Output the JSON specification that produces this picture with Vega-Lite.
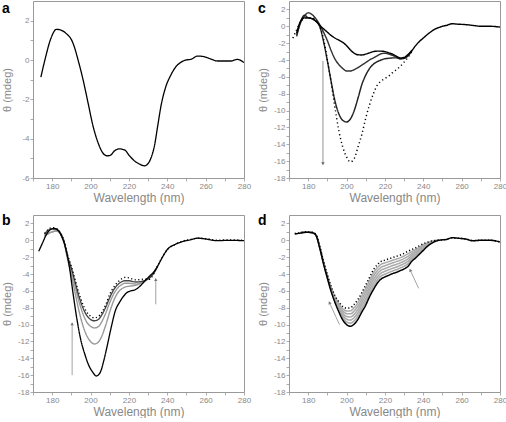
{
"$schema": "https://vega.github.io/schema/vega-lite/v6.json",
"padding": {"left": 0, "top": 0, "right": 0, "bottom": 0},
"background": "white",
"datasets": {
"a": [
{"s":"a","x":174.1,"y":-0.87},{"s":"a","x":176.2,"y":0},{"s":"a","x":179.3,"y":1.09},{"s":"a","x":182.2,"y":1.56},{"s":"a","x":184.8,"y":1.51},{"s":"a","x":187.4,"y":1.34},{"s":"a","x":190.4,"y":0.96},{"s":"a","x":191.8,"y":0.59},{"s":"a","x":193.5,"y":0},{"s":"a","x":196.1,"y":-1.0},{"s":"a","x":198.7,"y":-2.18},{"s":"a","x":201.3,"y":-3.36},{"s":"a","x":203.9,"y":-4.2},{"s":"a","x":206.5,"y":-4.74},{"s":"a","x":208.7,"y":-4.87},{"s":"a","x":210.4,"y":-4.84},{"s":"a","x":212.5,"y":-4.62},{"s":"a","x":215.1,"y":-4.52},{"s":"a","x":217.7,"y":-4.57},{"s":"a","x":220.3,"y":-4.87},{"s":"a","x":222.9,"y":-5.13},{"s":"a","x":225.5,"y":-5.29},{"s":"a","x":228.1,"y":-5.38},{"s":"a","x":229.8,"y":-5.29},{"s":"a","x":231.6,"y":-4.96},{"s":"a","x":233.3,"y":-4.37},{"s":"a","x":235.0,"y":-3.36},{"s":"a","x":236.7,"y":-2.35},{"s":"a","x":239.3,"y":-1.34},{"s":"a","x":241.9,"y":-0.76},{"s":"a","x":244.5,"y":-0.34},{"s":"a","x":247.1,"y":-0.12},{"s":"a","x":249.7,"y":0},{"s":"a","x":252.3,"y":0.03},{"s":"a","x":255.8,"y":0.2},{"s":"a","x":259.2,"y":0.17},{"s":"a","x":262.7,"y":0.05},{"s":"a","x":266.2,"y":-0.05},{"s":"a","x":269.6,"y":-0.05},{"s":"a","x":273.1,"y":-0.05},{"s":"a","x":276.5,"y":0.03},{"s":"a","x":280,"y":-0.13}
],
"b": [
{"s":"b4","x":176,"y":0.5},{"s":"b4","x":178,"y":0.8},{"s":"b4","x":180,"y":1.0},{"s":"b4","x":182,"y":1.1},{"s":"b4","x":184,"y":0.9},{"s":"b4","x":186,"y":-0.1},{"s":"b4","x":188,"y":-2.2},{"s":"b4","x":190,"y":-4.1},{"s":"b4","x":192,"y":-6.3},{"s":"b4","x":194,"y":-8.4},{"s":"b4","x":196,"y":-10.1},{"s":"b4","x":198,"y":-11.3},{"s":"b4","x":200,"y":-12.0},{"s":"b4","x":202,"y":-12.3},{"s":"b4","x":204,"y":-12.1},{"s":"b4","x":206,"y":-11.3},{"s":"b4","x":208,"y":-10.0},{"s":"b4","x":210,"y":-8.5},{"s":"b4","x":212,"y":-7.2},{"s":"b4","x":214,"y":-6.3},{"s":"b4","x":216,"y":-5.8},{"s":"b4","x":218,"y":-5.55},{"s":"b4","x":220,"y":-5.45},{"s":"b4","x":222,"y":-5.4},{"s":"b4","x":224,"y":-5.3},{"s":"b4","x":226,"y":-5.1},{"s":"b4","x":228,"y":-4.9},{"s":"b4","x":230,"y":-4.5},{"s":"b4","x":232,"y":-4.1},{"s":"b4","x":234,"y":-3.45},{"s":"b4","x":235,"y":-3.05},
{"s":"b3","x":176,"y":0.5},{"s":"b3","x":178,"y":0.8},{"s":"b3","x":180,"y":1.0},{"s":"b3","x":182,"y":1.1},{"s":"b3","x":184,"y":0.9},{"s":"b3","x":186,"y":0.0},{"s":"b3","x":188,"y":-2.0},{"s":"b3","x":190,"y":-3.6},{"s":"b3","x":192,"y":-5.5},{"s":"b3","x":194,"y":-7.3},{"s":"b3","x":196,"y":-8.7},{"s":"b3","x":198,"y":-9.7},{"s":"b3","x":200,"y":-10.2},{"s":"b3","x":202,"y":-10.4},{"s":"b3","x":204,"y":-10.25},{"s":"b3","x":206,"y":-9.6},{"s":"b3","x":208,"y":-8.6},{"s":"b3","x":210,"y":-7.4},{"s":"b3","x":212,"y":-6.4},{"s":"b3","x":214,"y":-5.7},{"s":"b3","x":216,"y":-5.3},{"s":"b3","x":218,"y":-5.1},{"s":"b3","x":220,"y":-5.1},{"s":"b3","x":222,"y":-5.15},{"s":"b3","x":224,"y":-5.2},{"s":"b3","x":226,"y":-5.05},{"s":"b3","x":228,"y":-4.85},{"s":"b3","x":230,"y":-4.55},{"s":"b3","x":232,"y":-4.15},{"s":"b3","x":234,"y":-3.5},{"s":"b3","x":235,"y":-3.05},
{"s":"b2","x":176,"y":0.7},{"s":"b2","x":178,"y":1.2},{"s":"b2","x":180,"y":1.35},{"s":"b2","x":182,"y":1.3},{"s":"b2","x":184,"y":0.95},{"s":"b2","x":186,"y":0.0},{"s":"b2","x":188,"y":-1.9},{"s":"b2","x":190,"y":-3.3},{"s":"b2","x":192,"y":-5.0},{"s":"b2","x":194,"y":-6.7},{"s":"b2","x":196,"y":-8.0},{"s":"b2","x":198,"y":-8.9},{"s":"b2","x":200,"y":-9.4},{"s":"b2","x":202,"y":-9.55},{"s":"b2","x":204,"y":-9.4},{"s":"b2","x":206,"y":-8.8},{"s":"b2","x":208,"y":-7.9},{"s":"b2","x":210,"y":-6.8},{"s":"b2","x":212,"y":-5.9},{"s":"b2","x":214,"y":-5.3},{"s":"b2","x":216,"y":-4.95},{"s":"b2","x":218,"y":-4.8},{"s":"b2","x":220,"y":-4.8},{"s":"b2","x":222,"y":-4.9},{"s":"b2","x":224,"y":-4.95},{"s":"b2","x":226,"y":-4.9},{"s":"b2","x":228,"y":-4.8},{"s":"b2","x":230,"y":-4.6},{"s":"b2","x":232,"y":-4.2},{"s":"b2","x":234,"y":-3.5},{"s":"b2","x":235,"y":-3.05},
{"s":"bd","x":176,"y":0.8},{"s":"bd","x":178,"y":1.3},{"s":"bd","x":180,"y":1.5},{"s":"bd","x":182,"y":1.4},{"s":"bd","x":184,"y":1.0},{"s":"bd","x":186,"y":0.0},{"s":"bd","x":188,"y":-1.7},{"s":"bd","x":190,"y":-3.1},{"s":"bd","x":192,"y":-4.7},{"s":"bd","x":194,"y":-6.3},{"s":"bd","x":196,"y":-7.6},{"s":"bd","x":198,"y":-8.5},{"s":"bd","x":200,"y":-9.0},{"s":"bd","x":202,"y":-9.2},{"s":"bd","x":204,"y":-9.05},{"s":"bd","x":206,"y":-8.5},{"s":"bd","x":208,"y":-7.6},{"s":"bd","x":210,"y":-6.4},{"s":"bd","x":212,"y":-5.6},{"s":"bd","x":214,"y":-5.0},{"s":"bd","x":216,"y":-4.6},{"s":"bd","x":218,"y":-4.4},{"s":"bd","x":220,"y":-4.45},{"s":"bd","x":222,"y":-4.6},{"s":"bd","x":224,"y":-4.7},{"s":"bd","x":226,"y":-4.65},{"s":"bd","x":228,"y":-4.6},{"s":"bd","x":230,"y":-4.65},{"s":"bd","x":232,"y":-4.35},{"s":"bd","x":234,"y":-3.45},{"s":"bd","x":236,"y":-2.6},{"s":"bd","x":240,"y":-1.1},{"s":"bd","x":244,"y":-0.5},{"s":"bd","x":248,"y":-0.1},{"s":"bd","x":252,"y":0.1},{"s":"bd","x":256,"y":0.25},{"s":"bd","x":260,"y":0.2},{"s":"bd","x":266,"y":0.0},{"s":"bd","x":272,"y":0.05},{"s":"bd","x":280,"y":0.0},
{"s":"bk","x":173,"y":-1.3},{"s":"bk","x":175,"y":-0.3},{"s":"bk","x":177,"y":0.7},{"s":"bk","x":179,"y":1.25},{"s":"bk","x":181,"y":1.4},{"s":"bk","x":183,"y":1.2},{"s":"bk","x":185,"y":0.4},{"s":"bk","x":187,"y":-0.9},{"s":"bk","x":189,"y":-3.2},{"s":"bk","x":191,"y":-6.5},{"s":"bk","x":193,"y":-9.5},{"s":"bk","x":195,"y":-11.9},{"s":"bk","x":197,"y":-13.5},{"s":"bk","x":199,"y":-14.8},{"s":"bk","x":201,"y":-15.6},{"s":"bk","x":203,"y":-16.1},{"s":"bk","x":205,"y":-15.7},{"s":"bk","x":207,"y":-14.2},{"s":"bk","x":209,"y":-12.2},{"s":"bk","x":211,"y":-10.1},{"s":"bk","x":213,"y":-8.3},{"s":"bk","x":215,"y":-7.4},{"s":"bk","x":217,"y":-6.7},{"s":"bk","x":219,"y":-6.2},{"s":"bk","x":221,"y":-6.0},{"s":"bk","x":223,"y":-5.9},{"s":"bk","x":225,"y":-5.6},{"s":"bk","x":227,"y":-5.15},{"s":"bk","x":229,"y":-4.65},{"s":"bk","x":231,"y":-4.2},{"s":"bk","x":233,"y":-3.75},{"s":"bk","x":235,"y":-3.05},{"s":"bk","x":237,"y":-2.2},{"s":"bk","x":240,"y":-1.1},{"s":"bk","x":244,"y":-0.5},{"s":"bk","x":248,"y":-0.15},{"s":"bk","x":252,"y":0.05},{"s":"bk","x":256,"y":0.25},{"s":"bk","x":260,"y":0.15},{"s":"bk","x":266,"y":-0.05},{"s":"bk","x":272,"y":0.0},{"s":"bk","x":280,"y":-0.05}
],
"c": [
{"s":"c2","x":174,"y":-1.0},{"s":"c2","x":176,"y":0.4},{"s":"c2","x":178,"y":1.2},{"s":"c2","x":180,"y":1.6},{"s":"c2","x":182,"y":1.4},{"s":"c2","x":184,"y":0.9},{"s":"c2","x":186,"y":0.2},{"s":"c2","x":188,"y":-0.7},{"s":"c2","x":190,"y":-1.7},{"s":"c2","x":192,"y":-2.9},{"s":"c2","x":194,"y":-3.9},{"s":"c2","x":196,"y":-4.55},{"s":"c2","x":198,"y":-5.0},{"s":"c2","x":200,"y":-5.3},{"s":"c2","x":202,"y":-5.3},{"s":"c2","x":204,"y":-5.15},{"s":"c2","x":206,"y":-4.9},{"s":"c2","x":208,"y":-4.6},{"s":"c2","x":210,"y":-4.3},{"s":"c2","x":212,"y":-4.0},{"s":"c2","x":214,"y":-3.75},{"s":"c2","x":216,"y":-3.5},{"s":"c2","x":218,"y":-3.25},{"s":"c2","x":220,"y":-3.2},{"s":"c2","x":222,"y":-3.3},{"s":"c2","x":224,"y":-3.45},{"s":"c2","x":226,"y":-3.65},{"s":"c2","x":228,"y":-3.85},{"s":"c2","x":230,"y":-3.8},{"s":"c2","x":232,"y":-3.5},{"s":"c2","x":234,"y":-2.9},
{"s":"c3","x":174,"y":-1.2},{"s":"c3","x":176,"y":0.5},{"s":"c3","x":178,"y":1.3},{"s":"c3","x":180,"y":1.0},{"s":"c3","x":182,"y":0.9},{"s":"c3","x":184,"y":0.6},{"s":"c3","x":186,"y":0.0},{"s":"c3","x":188,"y":-1.8},{"s":"c3","x":190,"y":-4.1},{"s":"c3","x":192,"y":-6.6},{"s":"c3","x":194,"y":-8.9},{"s":"c3","x":196,"y":-10.4},{"s":"c3","x":198,"y":-11.15},{"s":"c3","x":200,"y":-11.35},{"s":"c3","x":202,"y":-11.0},{"s":"c3","x":204,"y":-10.0},{"s":"c3","x":206,"y":-8.5},{"s":"c3","x":208,"y":-6.9},{"s":"c3","x":210,"y":-5.8},{"s":"c3","x":212,"y":-5.0},{"s":"c3","x":214,"y":-4.5},{"s":"c3","x":216,"y":-4.2},{"s":"c3","x":218,"y":-4.0},{"s":"c3","x":220,"y":-3.85},{"s":"c3","x":222,"y":-3.8},{"s":"c3","x":224,"y":-3.75},{"s":"c3","x":226,"y":-3.75},{"s":"c3","x":228,"y":-3.85},{"s":"c3","x":230,"y":-3.8},{"s":"c3","x":232,"y":-3.5},{"s":"c3","x":234,"y":-2.9},
{"s":"cd","x":172,"y":-1.4},{"s":"cd","x":174,"y":-0.4},{"s":"cd","x":176,"y":0.5},{"s":"cd","x":178,"y":0.9},{"s":"cd","x":180,"y":1.0},{"s":"cd","x":182,"y":1.0},{"s":"cd","x":184,"y":0.7},{"s":"cd","x":186,"y":0.0},{"s":"cd","x":188,"y":-1.5},{"s":"cd","x":190,"y":-4.0},{"s":"cd","x":192,"y":-6.7},{"s":"cd","x":194,"y":-9.7},{"s":"cd","x":196,"y":-12.4},{"s":"cd","x":198,"y":-14.3},{"s":"cd","x":200,"y":-15.5},{"s":"cd","x":202,"y":-16.1},{"s":"cd","x":204,"y":-15.7},{"s":"cd","x":206,"y":-14.3},{"s":"cd","x":208,"y":-12.8},{"s":"cd","x":210,"y":-10.9},{"s":"cd","x":212,"y":-9.3},{"s":"cd","x":214,"y":-8.0},{"s":"cd","x":216,"y":-7.0},{"s":"cd","x":218,"y":-6.5},{"s":"cd","x":220,"y":-6.2},{"s":"cd","x":222,"y":-5.9},{"s":"cd","x":224,"y":-5.5},{"s":"cd","x":226,"y":-5.15},{"s":"cd","x":228,"y":-4.75},{"s":"cd","x":230,"y":-4.25},{"s":"cd","x":232,"y":-3.7},{"s":"cd","x":234,"y":-3.0},
{"s":"ck","x":174,"y":-0.8},{"s":"ck","x":176,"y":0.6},{"s":"ck","x":178,"y":1.0},{"s":"ck","x":180,"y":1.0},{"s":"ck","x":182,"y":0.9},{"s":"ck","x":184,"y":0.6},{"s":"ck","x":186,"y":0.1},{"s":"ck","x":188,"y":-0.3},{"s":"ck","x":190,"y":-0.7},{"s":"ck","x":192,"y":-1.1},{"s":"ck","x":194,"y":-1.4},{"s":"ck","x":196,"y":-1.65},{"s":"ck","x":198,"y":-1.9},{"s":"ck","x":200,"y":-2.3},{"s":"ck","x":202,"y":-2.8},{"s":"ck","x":204,"y":-3.2},{"s":"ck","x":206,"y":-3.38},{"s":"ck","x":208,"y":-3.4},{"s":"ck","x":210,"y":-3.3},{"s":"ck","x":212,"y":-3.15},{"s":"ck","x":214,"y":-3.0},{"s":"ck","x":216,"y":-2.95},{"s":"ck","x":218,"y":-2.95},{"s":"ck","x":220,"y":-3.0},{"s":"ck","x":222,"y":-3.15},{"s":"ck","x":224,"y":-3.3},{"s":"ck","x":226,"y":-3.55},{"s":"ck","x":228,"y":-3.75},{"s":"ck","x":230,"y":-3.7},{"s":"ck","x":232,"y":-3.35},{"s":"ck","x":234,"y":-2.9},{"s":"ck","x":236,"y":-2.3},{"s":"ck","x":238,"y":-1.8},{"s":"ck","x":240,"y":-1.4},{"s":"ck","x":242,"y":-1.0},{"s":"ck","x":244,"y":-0.65},{"s":"ck","x":246,"y":-0.35},{"s":"ck","x":248,"y":-0.15},{"s":"ck","x":250,"y":0.0},{"s":"ck","x":252,"y":0.1},{"s":"ck","x":255,"y":0.3},{"s":"ck","x":258,"y":0.25},{"s":"ck","x":262,"y":0.2},{"s":"ck","x":266,"y":0.1},{"s":"ck","x":270,"y":0.0},{"s":"ck","x":275,"y":0.0},{"s":"ck","x":280,"y":-0.1}
],
"d": [
{"s":"g1","x":176,"y":0.9},{"s":"g1","x":179,"y":1.0},{"s":"g1","x":182,"y":0.94},{"s":"g1","x":184,"y":0.68},{"s":"g1","x":186,"y":-0.73},{"s":"g1","x":188,"y":-2.55},{"s":"g1","x":190,"y":-4.17},{"s":"g1","x":192,"y":-5.6},{"s":"g1","x":194,"y":-6.73},{"s":"g1","x":196,"y":-7.5},{"s":"g1","x":198,"y":-8.12},{"s":"g1","x":200,"y":-8.38},{"s":"g1","x":202,"y":-8.37},{"s":"g1","x":204,"y":-7.99},{"s":"g1","x":206,"y":-7.39},{"s":"g1","x":208,"y":-6.58},{"s":"g1","x":210,"y":-5.7},{"s":"g1","x":212,"y":-4.78},{"s":"g1","x":214,"y":-3.89},{"s":"g1","x":216,"y":-3.27},{"s":"g1","x":218,"y":-2.85},{"s":"g1","x":220,"y":-2.68},{"s":"g1","x":222,"y":-2.53},{"s":"g1","x":224,"y":-2.37},{"s":"g1","x":226,"y":-2.22},{"s":"g1","x":228,"y":-2.06},{"s":"g1","x":230,"y":-1.86},{"s":"g1","x":232,"y":-1.6},{"s":"g1","x":234,"y":-1.33},{"s":"g1","x":236,"y":-1.1},{"s":"g1","x":238,"y":-0.82},{"s":"g1","x":240,"y":-0.53},{"s":"g1","x":242,"y":-0.33},{"s":"g1","x":244,"y":-0.15},{"s":"g1","x":246,"y":-0.05},{"s":"g1","x":248,"y":0},
{"s":"g2","x":176,"y":0.9},{"s":"g2","x":179,"y":1.0},{"s":"g2","x":182,"y":0.93},{"s":"g2","x":184,"y":0.67},{"s":"g2","x":186,"y":-0.77},{"s":"g2","x":188,"y":-2.6},{"s":"g2","x":190,"y":-4.23},{"s":"g2","x":192,"y":-5.7},{"s":"g2","x":194,"y":-6.87},{"s":"g2","x":196,"y":-7.7},{"s":"g2","x":198,"y":-8.38},{"s":"g2","x":200,"y":-8.7},{"s":"g2","x":202,"y":-8.73},{"s":"g2","x":204,"y":-8.38},{"s":"g2","x":206,"y":-7.78},{"s":"g2","x":208,"y":-6.97},{"s":"g2","x":210,"y":-6.1},{"s":"g2","x":212,"y":-5.17},{"s":"g2","x":214,"y":-4.28},{"s":"g2","x":216,"y":-3.63},{"s":"g2","x":218,"y":-3.2},{"s":"g2","x":220,"y":-3.02},{"s":"g2","x":222,"y":-2.85},{"s":"g2","x":224,"y":-2.68},{"s":"g2","x":226,"y":-2.53},{"s":"g2","x":228,"y":-2.37},{"s":"g2","x":230,"y":-2.17},{"s":"g2","x":232,"y":-1.9},{"s":"g2","x":234,"y":-1.57},{"s":"g2","x":236,"y":-1.3},{"s":"g2","x":238,"y":-0.98},{"s":"g2","x":240,"y":-0.67},{"s":"g2","x":242,"y":-0.42},{"s":"g2","x":244,"y":-0.2},{"s":"g2","x":246,"y":-0.07},{"s":"g2","x":248,"y":0},
{"s":"g3","x":176,"y":0.9},{"s":"g3","x":179,"y":1.0},{"s":"g3","x":182,"y":0.92},{"s":"g3","x":184,"y":0.65},{"s":"g3","x":186,"y":-0.8},{"s":"g3","x":188,"y":-2.65},{"s":"g3","x":190,"y":-4.3},{"s":"g3","x":192,"y":-5.8},{"s":"g3","x":194,"y":-7.0},{"s":"g3","x":196,"y":-7.9},{"s":"g3","x":198,"y":-8.65},{"s":"g3","x":200,"y":-9.03},{"s":"g3","x":202,"y":-9.1},{"s":"g3","x":204,"y":-8.78},{"s":"g3","x":206,"y":-8.18},{"s":"g3","x":208,"y":-7.35},{"s":"g3","x":210,"y":-6.5},{"s":"g3","x":212,"y":-5.55},{"s":"g3","x":214,"y":-4.68},{"s":"g3","x":216,"y":-4.0},{"s":"g3","x":218,"y":-3.55},{"s":"g3","x":220,"y":-3.35},{"s":"g3","x":222,"y":-3.18},{"s":"g3","x":224,"y":-3.0},{"s":"g3","x":226,"y":-2.85},{"s":"g3","x":228,"y":-2.68},{"s":"g3","x":230,"y":-2.48},{"s":"g3","x":232,"y":-2.2},{"s":"g3","x":234,"y":-1.8},{"s":"g3","x":236,"y":-1.5},{"s":"g3","x":238,"y":-1.15},{"s":"g3","x":240,"y":-0.8},{"s":"g3","x":242,"y":-0.5},{"s":"g3","x":244,"y":-0.25},{"s":"g3","x":246,"y":-0.09},{"s":"g3","x":248,"y":0},
{"s":"g4","x":176,"y":0.9},{"s":"g4","x":179,"y":1.0},{"s":"g4","x":182,"y":0.91},{"s":"g4","x":184,"y":0.63},{"s":"g4","x":186,"y":-0.83},{"s":"g4","x":188,"y":-2.7},{"s":"g4","x":190,"y":-4.37},{"s":"g4","x":192,"y":-5.9},{"s":"g4","x":194,"y":-7.13},{"s":"g4","x":196,"y":-8.1},{"s":"g4","x":198,"y":-8.92},{"s":"g4","x":200,"y":-9.35},{"s":"g4","x":202,"y":-9.47},{"s":"g4","x":204,"y":-9.17},{"s":"g4","x":206,"y":-8.57},{"s":"g4","x":208,"y":-7.73},{"s":"g4","x":210,"y":-6.9},{"s":"g4","x":212,"y":-5.93},{"s":"g4","x":214,"y":-5.07},{"s":"g4","x":216,"y":-4.37},{"s":"g4","x":218,"y":-3.9},{"s":"g4","x":220,"y":-3.68},{"s":"g4","x":222,"y":-3.5},{"s":"g4","x":224,"y":-3.32},{"s":"g4","x":226,"y":-3.17},{"s":"g4","x":228,"y":-2.98},{"s":"g4","x":230,"y":-2.78},{"s":"g4","x":232,"y":-2.5},{"s":"g4","x":234,"y":-2.03},{"s":"g4","x":236,"y":-1.7},{"s":"g4","x":238,"y":-1.32},{"s":"g4","x":240,"y":-0.93},{"s":"g4","x":242,"y":-0.58},{"s":"g4","x":244,"y":-0.3},{"s":"g4","x":246,"y":-0.11},{"s":"g4","x":248,"y":0},
{"s":"g5","x":176,"y":0.88},{"s":"g5","x":179,"y":0.98},{"s":"g5","x":182,"y":0.9},{"s":"g5","x":184,"y":0.62},{"s":"g5","x":186,"y":-0.87},{"s":"g5","x":188,"y":-2.75},{"s":"g5","x":190,"y":-4.43},{"s":"g5","x":192,"y":-6.0},{"s":"g5","x":194,"y":-7.27},{"s":"g5","x":196,"y":-8.3},{"s":"g5","x":198,"y":-9.18},{"s":"g5","x":200,"y":-9.68},{"s":"g5","x":202,"y":-9.83},{"s":"g5","x":204,"y":-9.56},{"s":"g5","x":206,"y":-8.96},{"s":"g5","x":208,"y":-8.12},{"s":"g5","x":210,"y":-7.3},{"s":"g5","x":212,"y":-6.32},{"s":"g5","x":214,"y":-5.46},{"s":"g5","x":216,"y":-4.73},{"s":"g5","x":218,"y":-4.25},{"s":"g5","x":220,"y":-4.02},{"s":"g5","x":222,"y":-3.83},{"s":"g5","x":224,"y":-3.63},{"s":"g5","x":226,"y":-3.48},{"s":"g5","x":228,"y":-3.29},{"s":"g5","x":230,"y":-3.09},{"s":"g5","x":232,"y":-2.8},{"s":"g5","x":234,"y":-2.27},{"s":"g5","x":236,"y":-1.9},{"s":"g5","x":238,"y":-1.48},{"s":"g5","x":240,"y":-1.07},{"s":"g5","x":242,"y":-0.67},{"s":"g5","x":244,"y":-0.35},{"s":"g5","x":246,"y":-0.13},{"s":"g5","x":248,"y":0},
{"s":"dd","x":173,"y":0.8},{"s":"dd","x":176,"y":0.9},{"s":"dd","x":179,"y":1.0},{"s":"dd","x":182,"y":0.95},{"s":"dd","x":184,"y":0.7},{"s":"dd","x":186,"y":-0.7},{"s":"dd","x":188,"y":-2.5},{"s":"dd","x":190,"y":-4.1},{"s":"dd","x":192,"y":-5.5},{"s":"dd","x":194,"y":-6.6},{"s":"dd","x":196,"y":-7.3},{"s":"dd","x":198,"y":-7.85},{"s":"dd","x":200,"y":-8.05},{"s":"dd","x":202,"y":-8.0},{"s":"dd","x":204,"y":-7.6},{"s":"dd","x":206,"y":-7.0},{"s":"dd","x":208,"y":-6.2},{"s":"dd","x":210,"y":-5.3},{"s":"dd","x":212,"y":-4.4},{"s":"dd","x":214,"y":-3.5},{"s":"dd","x":216,"y":-2.9},{"s":"dd","x":218,"y":-2.5},{"s":"dd","x":220,"y":-2.35},{"s":"dd","x":222,"y":-2.2},{"s":"dd","x":224,"y":-2.05},{"s":"dd","x":226,"y":-1.9},{"s":"dd","x":228,"y":-1.75},{"s":"dd","x":230,"y":-1.55},{"s":"dd","x":232,"y":-1.3},{"s":"dd","x":234,"y":-1.1},{"s":"dd","x":236,"y":-0.9},{"s":"dd","x":238,"y":-0.65},{"s":"dd","x":240,"y":-0.4},{"s":"dd","x":242,"y":-0.25},{"s":"dd","x":244,"y":-0.1},{"s":"dd","x":246,"y":-0.03},{"s":"dd","x":248,"y":0.0},{"s":"dd","x":252,"y":0.1},{"s":"dd","x":255,"y":0.3},{"s":"dd","x":258,"y":0.25},{"s":"dd","x":262,"y":0.15},{"s":"dd","x":266,"y":-0.05},{"s":"dd","x":270,"y":0.0},{"s":"dd","x":275,"y":0.0},{"s":"dd","x":280,"y":-0.2},
{"s":"dk","x":173,"y":0.75},{"s":"dk","x":176,"y":0.85},{"s":"dk","x":179,"y":0.95},{"s":"dk","x":182,"y":0.9},{"s":"dk","x":184,"y":0.6},{"s":"dk","x":186,"y":-0.9},{"s":"dk","x":188,"y":-2.8},{"s":"dk","x":190,"y":-4.5},{"s":"dk","x":192,"y":-6.1},{"s":"dk","x":194,"y":-7.4},{"s":"dk","x":196,"y":-8.5},{"s":"dk","x":198,"y":-9.45},{"s":"dk","x":200,"y":-10.0},{"s":"dk","x":202,"y":-10.2},{"s":"dk","x":204,"y":-9.95},{"s":"dk","x":206,"y":-9.35},{"s":"dk","x":208,"y":-8.5},{"s":"dk","x":210,"y":-7.7},{"s":"dk","x":212,"y":-6.7},{"s":"dk","x":214,"y":-5.85},{"s":"dk","x":216,"y":-5.1},{"s":"dk","x":218,"y":-4.6},{"s":"dk","x":220,"y":-4.35},{"s":"dk","x":222,"y":-4.15},{"s":"dk","x":224,"y":-3.95},{"s":"dk","x":226,"y":-3.8},{"s":"dk","x":228,"y":-3.6},{"s":"dk","x":230,"y":-3.4},{"s":"dk","x":232,"y":-3.1},{"s":"dk","x":234,"y":-2.5},{"s":"dk","x":236,"y":-2.1},{"s":"dk","x":238,"y":-1.65},{"s":"dk","x":240,"y":-1.2},{"s":"dk","x":242,"y":-0.75},{"s":"dk","x":244,"y":-0.4},{"s":"dk","x":246,"y":-0.15},{"s":"dk","x":248,"y":0.0},{"s":"dk","x":252,"y":0.1},{"s":"dk","x":255,"y":0.3},{"s":"dk","x":258,"y":0.25},{"s":"dk","x":262,"y":0.15},{"s":"dk","x":266,"y":-0.05},{"s":"dk","x":270,"y":0.0},{"s":"dk","x":275,"y":0.0},{"s":"dk","x":280,"y":-0.2}
],
"arr": [
{"p":"b","x":190.4,"y":-9.9,"x2":190.4,"y2":-16.0},
{"p":"b","x":234,"y":-4.65,"x2":234,"y2":-7.6},
{"p":"c","x":187.7,"y":-16.3,"x2":187.7,"y2":-4.1},
{"p":"d","x":191.1,"y":-7.4,"x2":196.3,"y2":-10.0},
{"p":"d","x":233.2,"y":-3.55,"x2":237.6,"y2":-5.7}
]
},
"spacing": 9,
"vconcat": [
{"hconcat": [
{"width": 211, "height": 177, "title": {"text": "a", "offset": -15},
 "data": {"name": "a"},
 "encoding": {
  "x": {"field": "x", "type": "quantitative", "scale": {"domain": [170, 280], "nice": false, "zero": false}, "axis": {"title": "Wavelength (nm)", "values": [170,180,190,200,210,220,230,240,250,260,270,280], "labelExpr": "datum.value % 20 == 0 ? '' + datum.value : ''"}},
  "y": {"field": "y", "type": "quantitative", "scale": {"domain": [-6, 3], "nice": false, "zero": false}, "axis": {"title": "θ (mdeg)", "values": [-6,-5,-4,-3,-2,-1,0,1,2], "labelExpr": "datum.value % 2 == 0 ? '' + datum.value : ''"}}
 },
 "layer": [
  {"data": {"values": [{}]}, "mark": {"type": "rule", "color": "#777", "strokeWidth": 0.8}, "encoding": {"x": {"datum": 170}, "x2": {"datum": 280}, "y": {"datum": 0}}},
  {"mark": {"type": "line", "interpolate": "monotone", "clip": true},
   "encoding": {
    "color": {"field": "s", "type": "nominal", "legend": null, "scale": {"domain": ["a","bk","bd","b2","b3","b4","ck","c2","c3","cd","dk","dd","g1","g2","g3","g4","g5"], "range": ["#000","#000","#000","#444","#999","#999","#000","#333","#222","#000","#000","#000","#aaa","#aaa","#aaa","#aaa","#aaa"]}},
    "strokeWidth": {"field": "s", "type": "ordinal", "legend": null, "scale": {"domain": ["a","bk","bd","b2","b3","b4","ck","c2","c3","cd","dk","dd","g1","g2","g3","g4","g5"], "range": [1.3,1.6,1.4,0.9,0.9,0.9,1.6,0.9,1.1,1.4,1.6,1.4,0.8,0.8,0.8,0.8,0.8]}},
    "strokeDash": {"field": "s", "type": "nominal", "legend": null, "scale": {"domain": ["a","bk","bd","b2","b3","b4","ck","c2","c3","cd","dk","dd","g1","g2","g3","g4","g5"], "range": [[1,0],[1,0],[1.2,2.4],[1,0],[1,0],[1,0],[1,0],[1,0],[1,0],[1.2,2.8],[1,0],[1.2,2.2],[1,0],[1,0],[1,0],[1,0],[1,0]]}}
   }}
 ]},
{"width": 211, "height": 177, "title": {"text": "c", "offset": -15},
 "data": {"name": "c"},
 "encoding": {
  "x": {"field": "x", "type": "quantitative", "scale": {"domain": [170, 280], "nice": false, "zero": false}, "axis": {"title": "Wavelength (nm)", "values": [170,180,190,200,210,220,230,240,250,260,270,280], "labelExpr": "datum.value % 20 == 0 ? '' + datum.value : ''"}},
  "y": {"field": "y", "type": "quantitative", "scale": {"domain": [-18, 3], "nice": false, "zero": false}, "axis": {"title": "θ (mdeg)", "values": [-18,-17,-16,-15,-14,-13,-12,-11,-10,-9,-8,-7,-6,-5,-4,-3,-2,-1,0,1,2], "labelExpr": "datum.value % 2 == 0 ? '' + datum.value : ''"}}
 },
 "layer": [
  {"data": {"values": [{}]}, "mark": {"type": "rule", "color": "#bbb", "strokeWidth": 2}, "encoding": {"x": {"datum": 170}, "x2": {"datum": 280}, "y": {"datum": 0}}},
  {"mark": {"type": "line", "interpolate": "monotone", "clip": true},
   "encoding": {
    "color": {"field": "s", "type": "nominal", "legend": null, "scale": {"domain": ["a","bk","bd","b2","b3","b4","ck","c2","c3","cd","dk","dd","g1","g2","g3","g4","g5"], "range": ["#000","#000","#000","#444","#999","#999","#000","#333","#222","#000","#000","#000","#aaa","#aaa","#aaa","#aaa","#aaa"]}},
    "strokeWidth": {"field": "s", "type": "ordinal", "legend": null, "scale": {"domain": ["a","bk","bd","b2","b3","b4","ck","c2","c3","cd","dk","dd","g1","g2","g3","g4","g5"], "range": [1.3,1.6,1.4,0.9,0.9,0.9,1.6,0.9,1.1,1.4,1.6,1.4,0.8,0.8,0.8,0.8,0.8]}},
    "strokeDash": {"field": "s", "type": "nominal", "legend": null, "scale": {"domain": ["a","bk","bd","b2","b3","b4","ck","c2","c3","cd","dk","dd","g1","g2","g3","g4","g5"], "range": [[1,0],[1,0],[1.2,2.4],[1,0],[1,0],[1,0],[1,0],[1,0],[1,0],[1.2,2.8],[1,0],[1.2,2.2],[1,0],[1,0],[1,0],[1,0],[1,0]]}}
   }},
  {"data": {"name": "arr"}, "transform": [{"filter": "datum.p == 'c'"}], "mark": {"type": "rule", "color": "#888", "strokeWidth": 0.9}, "encoding": {"x2": {"field": "x2"}, "y2": {"field": "y2"}}},
  {"data": {"name": "arr"}, "transform": [{"filter": "datum.p == 'c'"}], "mark": {"type": "point", "shape": "triangle-down", "filled": true, "size": 12, "color": "#666", "opacity": 1}}
 ]}
], "spacing": 4, "resolve": {"scale": {"x": "independent", "y": "independent", "color": "independent", "strokeWidth": "independent", "strokeDash": "independent"}}},
{"hconcat": [
{"width": 211, "height": 177, "title": {"text": "b", "offset": -13},
 "data": {"name": "b"},
 "encoding": {
  "x": {"field": "x", "type": "quantitative", "scale": {"domain": [170, 280], "nice": false, "zero": false}, "axis": {"title": "Wavelength (nm)", "values": [170,180,190,200,210,220,230,240,250,260,270,280], "labelExpr": "datum.value % 20 == 0 ? '' + datum.value : ''"}},
  "y": {"field": "y", "type": "quantitative", "scale": {"domain": [-18, 3], "nice": false, "zero": false}, "axis": {"title": "θ (mdeg)", "values": [-18,-17,-16,-15,-14,-13,-12,-11,-10,-9,-8,-7,-6,-5,-4,-3,-2,-1,0,1,2], "labelExpr": "datum.value % 2 == 0 ? '' + datum.value : ''"}}
 },
 "layer": [
  {"data": {"values": [{}]}, "mark": {"type": "rule", "color": "#777", "strokeWidth": 0.8}, "encoding": {"x": {"datum": 170}, "x2": {"datum": 280}, "y": {"datum": 0}}},
  {"mark": {"type": "line", "interpolate": "monotone", "clip": true},
   "encoding": {
    "color": {"field": "s", "type": "nominal", "legend": null, "scale": {"domain": ["a","bk","bd","b2","b3","b4","ck","c2","c3","cd","dk","dd","g1","g2","g3","g4","g5"], "range": ["#000","#000","#000","#444","#999","#999","#000","#333","#222","#000","#000","#000","#aaa","#aaa","#aaa","#aaa","#aaa"]}},
    "strokeWidth": {"field": "s", "type": "ordinal", "legend": null, "scale": {"domain": ["a","bk","bd","b2","b3","b4","ck","c2","c3","cd","dk","dd","g1","g2","g3","g4","g5"], "range": [1.3,1.6,1.4,0.9,0.9,0.9,1.6,0.9,1.1,1.4,1.6,1.4,0.8,0.8,0.8,0.8,0.8]}},
    "strokeDash": {"field": "s", "type": "nominal", "legend": null, "scale": {"domain": ["a","bk","bd","b2","b3","b4","ck","c2","c3","cd","dk","dd","g1","g2","g3","g4","g5"], "range": [[1,0],[1,0],[1.2,2.4],[1,0],[1,0],[1,0],[1,0],[1,0],[1,0],[1.2,2.8],[1,0],[1.2,2.2],[1,0],[1,0],[1,0],[1,0],[1,0]]}}
   }},
  {"data": {"name": "arr"}, "transform": [{"filter": "datum.p == 'b'"}], "mark": {"type": "rule", "color": "#999", "strokeWidth": 0.9}, "encoding": {"x2": {"field": "x2"}, "y2": {"field": "y2"}}},
  {"data": {"name": "arr"}, "transform": [{"filter": "datum.p == 'b'"}], "mark": {"type": "point", "shape": "triangle-up", "filled": true, "size": 12, "color": "#777", "opacity": 1}}
 ]},
{"width": 211, "height": 177, "title": {"text": "d", "offset": -13},
 "data": {"name": "d"},
 "encoding": {
  "x": {"field": "x", "type": "quantitative", "scale": {"domain": [170, 280], "nice": false, "zero": false}, "axis": {"title": "Wavelength (nm)", "values": [170,180,190,200,210,220,230,240,250,260,270,280], "labelExpr": "datum.value % 20 == 0 ? '' + datum.value : ''"}},
  "y": {"field": "y", "type": "quantitative", "scale": {"domain": [-18, 3], "nice": false, "zero": false}, "axis": {"title": "θ (mdeg)", "values": [-18,-17,-16,-15,-14,-13,-12,-11,-10,-9,-8,-7,-6,-5,-4,-3,-2,-1,0,1,2], "labelExpr": "datum.value % 2 == 0 ? '' + datum.value : ''"}}
 },
 "layer": [
  {"data": {"values": [{}]}, "mark": {"type": "rule", "color": "#777", "strokeWidth": 0.8}, "encoding": {"x": {"datum": 170}, "x2": {"datum": 280}, "y": {"datum": 0}}},
  {"mark": {"type": "line", "interpolate": "monotone", "clip": true},
   "encoding": {
    "color": {"field": "s", "type": "nominal", "legend": null, "scale": {"domain": ["a","bk","bd","b2","b3","b4","ck","c2","c3","cd","dk","dd","g1","g2","g3","g4","g5"], "range": ["#000","#000","#000","#444","#999","#999","#000","#333","#222","#000","#000","#000","#aaa","#aaa","#aaa","#aaa","#aaa"]}},
    "strokeWidth": {"field": "s", "type": "ordinal", "legend": null, "scale": {"domain": ["a","bk","bd","b2","b3","b4","ck","c2","c3","cd","dk","dd","g1","g2","g3","g4","g5"], "range": [1.3,1.6,1.4,0.9,0.9,0.9,1.6,0.9,1.1,1.4,1.6,1.4,0.8,0.8,0.8,0.8,0.8]}},
    "strokeDash": {"field": "s", "type": "nominal", "legend": null, "scale": {"domain": ["a","bk","bd","b2","b3","b4","ck","c2","c3","cd","dk","dd","g1","g2","g3","g4","g5"], "range": [[1,0],[1,0],[1.2,2.4],[1,0],[1,0],[1,0],[1,0],[1,0],[1,0],[1.2,2.8],[1,0],[1.2,2.2],[1,0],[1,0],[1,0],[1,0],[1,0]]}}
   }},
  {"data": {"name": "arr"}, "transform": [{"filter": "datum.p == 'd'"}], "mark": {"type": "rule", "color": "#999", "strokeWidth": 0.9}, "encoding": {"x2": {"field": "x2"}, "y2": {"field": "y2"}}},
  {"data": {"name": "arr"}, "transform": [{"filter": "datum.p == 'd'"}], "mark": {"type": "point", "shape": "triangle-up", "angle": -25, "filled": true, "size": 12, "color": "#777", "opacity": 1}}
 ]}
], "spacing": 4, "resolve": {"scale": {"x": "independent", "y": "independent", "color": "independent", "strokeWidth": "independent", "strokeDash": "independent"}}}
],
"resolve": {"scale": {"x": "independent", "y": "independent", "color": "independent", "strokeWidth": "independent", "strokeDash": "independent"}},
"config": {
 "font": "Liberation Sans",
 "view": {"stroke": "#999", "strokeWidth": 1},
 "title": {"anchor": "start", "frame": "group", "orient": "top", "baseline": "top", "fontSize": 14, "fontWeight": "bold", "color": "#000", "dx": -31, "font": "Liberation Sans"},
 "axis": {"domain": false, "grid": false, "ticks": true, "tickSize": 3, "tickColor": "#999", "tickWidth": 0.8, "labelFontSize": 8, "labelColor": "#888", "labelFont": "Liberation Sans", "labelPadding": 1, "labelFlush": false, "labelOverlap": false, "titleFont": "Liberation Sans", "titleFontWeight": "normal", "titleColor": "#888"},
 "axisX": {"titleFontSize": 12, "titlePadding": 2},
 "axisY": {"titleFontSize": 11, "titlePadding": 0, "minExtent": 21, "maxExtent": 21}
}
}
